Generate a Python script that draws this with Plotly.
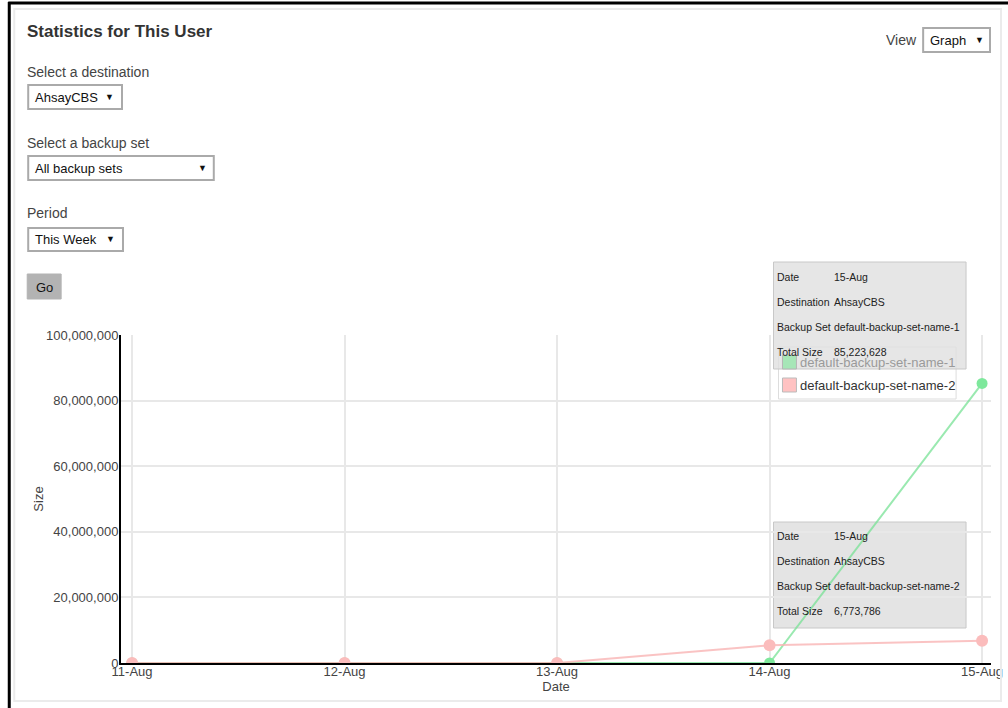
import plotly.graph_objects as go

# data
dates = ['11-Aug', '12-Aug', '13-Aug', '14-Aug', '15-Aug']
set1_name = 'default-backup-set-name-1'
set2_name = 'default-backup-set-name-2'
set1_size = [0, 0, 0, 0, 85223628]
set2_size = [0, 0, 0, 5400000, 6773786]
y_ticks = [0, 20000000, 40000000, 60000000, 80000000, 100000000]

W, H = 1008, 708
L, R, T, B = 120, 992, 335, 663   # plot area in page pixels
S = 1015 / 1008                   # horizontal correction for the capture
FONT = 'Liberation Sans, Arial, sans-serif'

GREEN_LINE = 'rgba(120,225,150,0.75)'
GREEN_MARK = '#7ee89c'
PINK_LINE = 'rgba(249,180,180,0.8)'
PINK_MARK = '#fbbcbc'


def px(x):
    return (x - L) / (R - L)


def py(y):
    return (B - y) / (B - T)


fig = go.Figure()

fig.add_trace(go.Scatter(
    x=dates, y=set1_size, mode='lines+markers', name=set1_name,
    line=dict(color=GREEN_LINE, width=2),
    marker=dict(color=GREEN_MARK, size=11),
    showlegend=False
))
fig.add_trace(go.Scatter(
    x=dates, y=set2_size, mode='lines+markers', name=set2_name,
    line=dict(color=PINK_LINE, width=2),
    marker=dict(color=PINK_MARK, size=12),
    showlegend=False
))

shapes = []
annotations = []


def rect(x0, y0, x1, y1, fill='rgba(0,0,0,0)', line='#aaa', lw=2, layer='above'):
    shapes.append(dict(type='rect', xref='paper', yref='paper',
                       x0=px(x0), x1=px(x1), y0=py(y1), y1=py(y0),
                       fillcolor=fill, line=dict(color=line, width=lw), layer=layer))


def text(x, y, s, size=13, color='#444', anchor='left', bold=False):
    if bold:
        s = '<b>' + s + '</b>'
    # annotations carry ~2px of padding, pull left-anchored text back
    if anchor == 'left':
        x -= 2
    elif anchor == 'right':
        x += 2
    annotations.append(dict(xref='paper', yref='paper', x=px(x), y=py(y), text=s,
                            showarrow=False, xanchor=anchor, yanchor='middle',
                            font=dict(family=FONT, size=size, color=color)))


# page frame
rect(13, 9, 1002, 701, line='#ebebeb', lw=2)
shapes.append(dict(type='line', xref='paper', yref='paper', x0=px(8), x1=px(8),
                   y0=py(2), y1=py(710), line=dict(color='black', width=3)))
shapes.append(dict(type='line', xref='paper', yref='paper', x0=px(7), x1=px(1012),
                   y0=py(3), y1=py(3), line=dict(color='black', width=3)))

# form controls
text(26, 31, 'Statistics for This User', size=17, color='#333', bold=True)
text(26, 72, 'Select a destination', size=14)
rect(27, 85, 121, 109)
text(34, 97, 'AhsayCBS', size=13, color='#111')
text(108, 97, '▼', size=9, color='#111', anchor='center')
text(26, 143, 'Select a backup set', size=14)
rect(27, 156, 213, 180)
text(34, 168, 'All backup sets', size=13, color='#111')
text(202, 168, '▼', size=9, color='#111', anchor='center')
text(26, 213, 'Period', size=14)
rect(27, 228, 122, 251)
text(34, 239, 'This Week', size=13, color='#111')
text(109, 239, '▼', size=9, color='#111', anchor='center')
rect(26, 274, 60, 299, fill='#b3b3b3', line='#b3b3b3', lw=1)
text(43, 287, 'Go', size=13, color='#111', anchor='center')

text(918, 40, 'View', size=14, color='#444', anchor='right')
rect(924, 28, 991, 52)
text(931, 40, 'Graph', size=13, color='#111')
text(980, 40, '▼', size=9, color='#111', anchor='center')

# legend
rect(779, 347, 957, 399, fill='white', line='#dddddd', lw=1)
rect(783, 378, 797, 392, fill='#ffc2c2', line='#bbbbbb', lw=1)
text(801, 362, set1_name, size=13, color='#9a9a9a')
text(801, 385, set2_name, size=13, color='#333')

# hover boxes
rect(774, 262, 967, 369, fill='rgba(224,224,224,0.8)', line='#c8c8c8', lw=1)
rect(783, 355, 797, 369, fill='#a6e6b7', line='#b5b5b5', lw=1)
rect(774, 522, 967, 628, fill='rgba(228,228,228,1)', line='#c8c8c8', lw=1, layer='below')


def tooltip(top, name, value):
    rows = [('Date', '15-Aug'), ('Destination', 'AhsayCBS'),
            ('Backup Set', name), ('Total Size', f'{value:,}')]
    for i, (k, v) in enumerate(rows):
        yy = top + 15 + i * 25
        text(778, yy, k, size=10.5, color='#222')
        text(835, yy, v, size=10.5, color='#222')


tooltip(262, set1_name, set1_size[-1])
tooltip(521, set2_name, set2_size[-1])

fig.update_layout(
    width=round(W * S), height=H,
    margin=dict(l=L * S, r=(W - R) * S, t=T, b=H - B, pad=0),
    paper_bgcolor='white',
    plot_bgcolor='rgba(0,0,0,0)',
    font=dict(family=FONT, size=13, color='#444'),
    shapes=shapes,
    annotations=annotations,
    hovermode=False,
    xaxis=dict(
        type='category', range=[-0.052, 4.042],
        showgrid=True, gridcolor='#e8e8e8', gridwidth=2,
        showline=True, linecolor='black', linewidth=2,
        ticks='', ticklabelstandoff=-5, tickfont=dict(size=13, color='#444'),
        title=dict(text='Date', standoff=0, font=dict(size=13, color='#444')),
        zeroline=False
    ),
    yaxis=dict(
        range=[0, 100000000], tickvals=y_ticks, tickformat=',',
        showgrid=True, gridcolor='#e8e8e8', gridwidth=2,
        showline=True, linecolor='black', linewidth=2,
        ticks='', ticklabelstandoff=-2,
        tickfont=dict(size=13, color='#444'),
        title=dict(text='Size', standoff=0, font=dict(size=13, color='#444')),
        zeroline=False
    )
)

fig.write_html(
    "out.html",
    config={'displayModeBar': False},
    post_script="document.body.style.margin='0';document.documentElement.style.overflow='hidden';",
)
